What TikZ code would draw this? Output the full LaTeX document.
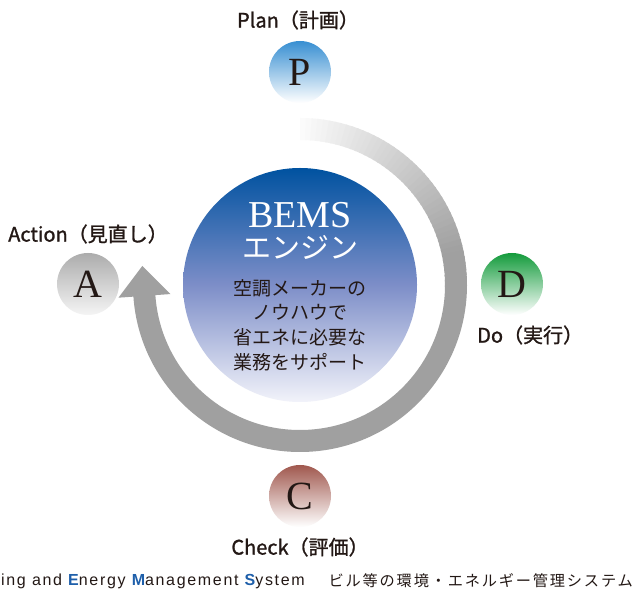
\documentclass[tikz,border=0pt]{standalone}
\usepackage{fontspec}
\setmainfont{Liberation Serif}
\newfontfamily\jpfont{Noto Sans CJK JP}
\newfontfamily\jplabelfont[FakeBold=1.2]{Noto Sans CJK JP}
\newfontfamily\jpspaced[LetterSpace=12]{Noto Sans CJK JP}
\newfontfamily\latspaced[LetterSpace=10.5]{Liberation Sans}
\definecolor{ink}{HTML}{231815}
\definecolor{ringgray}{RGB}{160,160,160}
\definecolor{coretop}{RGB}{0,82,160}
\definecolor{coremid}{RGB}{125,142,200}
\definecolor{corebot}{RGB}{242,243,250}
\definecolor{ptop}{RGB}{56,143,210}
\definecolor{atop}{RGB}{172,172,172}
\definecolor{dtop}{RGB}{20,155,60}
\definecolor{ctop}{RGB}{160,88,78}
\definecolor{bemsblue}{RGB}{30,95,170}
\begin{document}
\begin{tikzpicture}[x=1pt,y=1pt,
  pdcacircle/.style={circle, minimum size=62pt, inner sep=0pt, text=ink,
    font=\fontsize{40}{40}\selectfont, bottom color=white},
  steplabel/.style={text=ink, font=\jplabelfont\fontsize{20}{24}\selectfont, inner sep=0pt},
  bottomtext/.style={inner sep=0pt, text=ink}
]
\useasboundingbox (0,0) rectangle (634,594);
\fill[white] (0,0) rectangle (634,594);

% cycle ring with gradient
\begin{scope}[shift={(300,309)}]
  \foreach \a in {90,88,...,2} {
    \pgfmathsetmacro{\p}{min(100,4+(90-\a)*1.25)}
    \pgfmathsetmacro{\b}{\a-2.6}
    \fill[ringgray!\p!white] (\a:167) arc[start angle=\a, end angle=\b, radius=167]
      -- (\b:145) arc[start angle=\b, end angle=\a, radius=145] -- cycle;
  }
  \coordinate (tip) at (-157.7,19.0);
  \fill[ringgray] (0:167) arc[start angle=0, end angle=-176, radius=167]
    -- (-176:182) -- (tip) -- (-176:130) -- (-176:145)
    arc[start angle=-176, end angle=0, radius=145] -- cycle;
\end{scope}

% core
\node (core) [circle, minimum size=234pt, inner sep=0pt,
  top color=coretop, bottom color=corebot, middle color=coremid] at (300,309) {};
\node (bems) [text=white, font=\fontsize{38}{38}\selectfont, inner sep=0pt] at (300,379) {BEMS};
\node (engine) [text=white, font=\jpfont\fontsize{29}{29}\selectfont, inner sep=0pt] at (300,347) {エンジン};
\node (desc) [text=ink, font=\jpfont\fontsize{19}{24.7}\selectfont, align=center, inner sep=0pt]
  at (300,269) {空調メーカーの\\ノウハウで\\省エネに必要な\\業務をサポート};

% PDCA circles
\node (P) [pdcacircle, top color=ptop] at (300,522) {P};
\node (A) [pdcacircle, top color=atop, bottom color=black!4] at (88,310) {A};
\node (D) [pdcacircle, top color=dtop] at (512,310) {D};
\node (C) [pdcacircle, top color=ctop] at (300,98) {C};

% labels
\node (planlbl) [steplabel] at (298,574) {Plan（計画）};
\node (actlbl) [steplabel] at (88,360) {Action（見直し）};
\node (dolbl) [steplabel, anchor=west] at (477,259) {Do（実行）};
\node (chklbl) [steplabel] at (300,47) {Check（評価）};

% bottom line
\node (bottomen) [bottomtext, anchor=west, font=\latspaced\fontsize{16}{18}\selectfont] at (1,13)
  {ing and \textcolor{bemsblue}{\bfseries E}nergy \textcolor{bemsblue}{\bfseries M}anagement \textcolor{bemsblue}{\bfseries S}ystem};
\node (bottomjp) [bottomtext, anchor=east, font=\jpspaced\fontsize{15.2}{18}\selectfont] at (633,13)
  {ビル等の環境・エネルギー管理システム};
\end{tikzpicture}
\end{document}
